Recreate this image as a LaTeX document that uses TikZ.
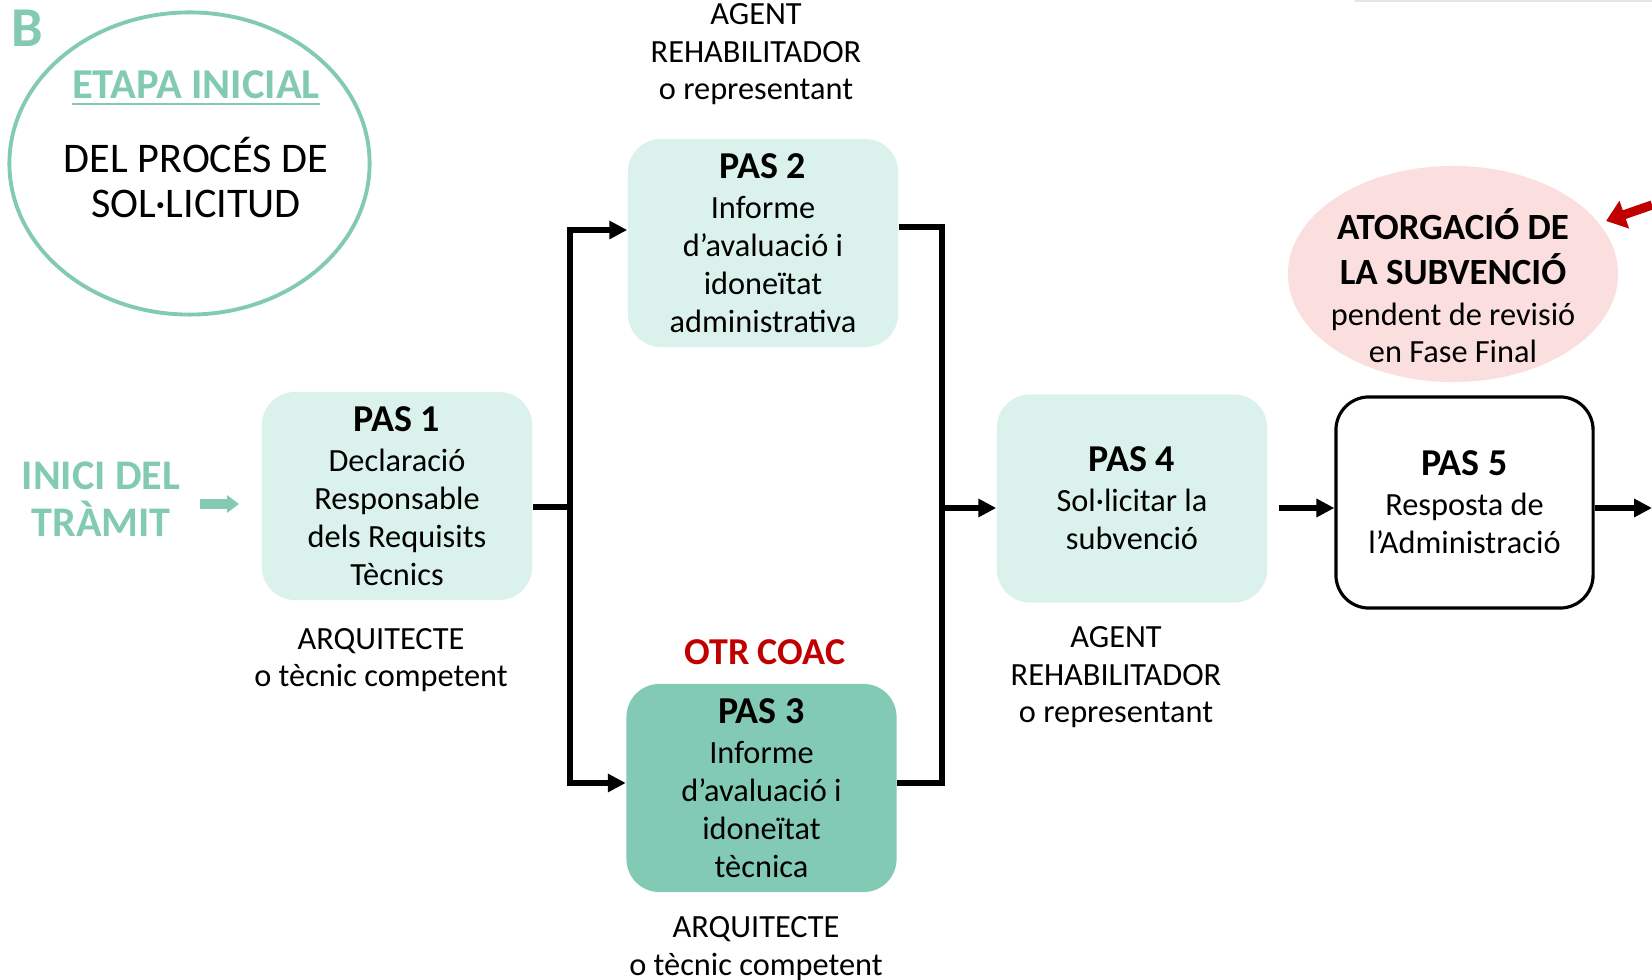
\documentclass[tikz,border=0pt]{standalone}
\usepackage{fontspec}
\setmainfont{Carlito}
\usetikzlibrary{arrows.meta}
\definecolor{tealgreen}{RGB}{130,202,180}
\definecolor{palegreen}{RGB}{219,242,236}
\definecolor{palepink}{RGB}{251,222,222}
\definecolor{darkred}{RGB}{192,0,0}
\newcommand{\pasfont}{\fontsize{10.8}{12}\selectfont\bfseries}
\newcommand{\txtfont}{\fontsize{9.2}{10.8}\selectfont}
\newcommand{\grantfont}{\fontsize{10.5}{12}\selectfont\bfseries}

\begin{document}
\begin{tikzpicture}[x=0.01cm,y=-0.01cm,
  pasbox/.style={rounded corners=0.33cm,fill=palegreen,minimum width=2.7cm,minimum height=2.08cm,align=center,inner sep=0pt,font=\txtfont},
  who/.style={align=center,anchor=base,font=\fontsize{9.2}{10.7}\selectfont},
  conn/.style={line width=1.7pt},
  arr/.style={-{Triangle[length=5.1pt,width=5pt]}}]
\useasboundingbox (0,0) rectangle (1652,980);
\draw[gray!20,line width=0.6pt,line cap=round] (1355,1) -- (1652,1);

\node[anchor=base west,inner sep=0pt,text=tealgreen,font=\fontsize{16}{19}\selectfont\bfseries] (lletra) at (11,47) {B};
\draw[tealgreen,line width=1.1pt] (189.5,163.5) ellipse [x radius=1.8cm,y radius=1.51cm];
\node[anchor=base,text=tealgreen,font=\fontsize{12.1}{14}\selectfont\bfseries] (etapa) at (196,99) {\underline{ETAPA INICIAL}};
\node[who,font=\fontsize{12}{12.8}\selectfont] (proces) at (196,218) {DEL PROCÉS DE\\SOL·LICITUD};

\node[who,text=tealgreen,font=\fontsize{12}{13.4}\selectfont\bfseries] (inici) at (101,537) {INICI DEL\\TRÀMIT};
\coordinate (inarrow) at (0,504);

\node[pasbox] (pas1) at (397,496) {\pasfont PAS 1\\[0.6pt]Declaració\\Responsable\\dels Requisits\\Tècnics};
\node[pasbox] (pas2) at (763,243) {\pasfont PAS 2\\[0.6pt]Informe\\d’avaluació i\\idoneïtat\\administrativa};
\node[pasbox,fill=tealgreen] (pas3) at (761.5,788) {\pasfont PAS 3\\[0.6pt]Informe\\d’avaluació i\\idoneïtat\\tècnica};
\node[pasbox] (pas4) at (1132,498.5) {\pasfont PAS 4\\[0.6pt]Sol·licitar la\\subvenció};
\node[pasbox,fill=white,draw,line width=0.9pt,minimum width=2.57cm,minimum height=2.11cm] (pas5) at (1464.5,502.5) {\pasfont PAS 5\\[0.6pt]Resposta de\\l’Administració};

\node[who] (agent2) at (756,100) {AGENT\\REHABILITADOR\\o representant};
\node[who] (arq1) at (381,687) {ARQUITECTE\\o tècnic competent};
\node[anchor=base,text=darkred,font=\fontsize{10.8}{12}\selectfont\bfseries] (otr) at (765,665) {OTR COAC};
\node[who] (arq3) at (756,975) {ARQUITECTE\\o tècnic competent};
\node[who] (agent4) at (1116,723) {AGENT\\REHABILITADOR\\o representant};

\fill[palepink] (1453,274) ellipse [x radius=1.65cm,y radius=1.08cm];
\node[anchor=base,align=center,font=\txtfont] (atorga) at (1453,363) {\grantfont ATORGACIÓ DE\\[2pt]\grantfont LA SUBVENCIÓ\\[0.6pt]pendent de revisió\\en Fase Final};
\coordinate (redtail) at (1652,205);
\coordinate (redtip) at (1606,221);
\draw[darkred,line width=2.6pt,-{Triangle[length=5.5pt,width=8pt]}] (redtail) -- (redtip);

\coordinate (split) at (570,507);
\coordinate (up) at (570,230);
\coordinate (down) at (570,783);
\coordinate (upr) at (942,227);
\coordinate (downr) at (942,783);
\coordinate (join) at (942,508);
\coordinate (exit) at (1652,508);
\draw[tealgreen,line width=2.8pt,-{Triangle[length=3.4pt,width=4.8pt]},shorten <=2pt,shorten >=6.3pt] (inici.east |- inarrow) -- (pas1.west |- inarrow);
\draw[conn] (pas1.east |- split) -- (split);
\draw[conn,{Triangle[length=5.1pt,width=5pt]}-{Triangle[length=5.1pt,width=5pt]}] (pas2.west |- up) -- (up) -- (down) -- (pas3.west |- down);
\draw[conn] (pas2.east |- upr) -- (upr) -- (downr) -- (pas3.east |- downr);
\draw[conn,arr] (join) -- (pas4.west |- join);
\draw[conn,arr,shorten <=3.1pt] (pas4.east |- join) -- (pas5.west |- join);
\draw[conn,arr] (pas5.east |- exit) -- (exit);
\end{tikzpicture}
\end{document}
